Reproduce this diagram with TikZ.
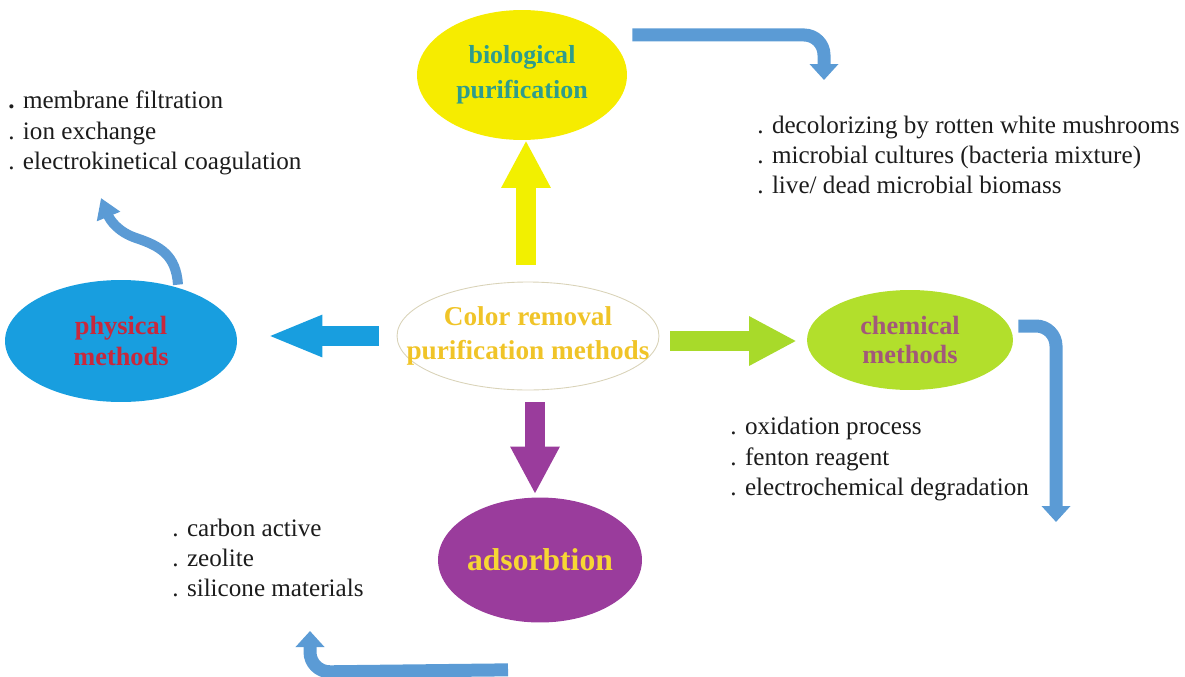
\documentclass[tikz,border=0pt]{standalone}
\usepackage{fontspec}
\setmainfont{Liberation Serif}
\usetikzlibrary{arrows.meta,calc,shapes.geometric}
\definecolor{bioyellow}{HTML}{F6EC00}
\definecolor{arrowyellow}{HTML}{F2F000}
\definecolor{bioteal}{HTML}{2E9C8C}
\definecolor{centergold}{HTML}{F0C428}
\definecolor{rimgray}{HTML}{D9D3B8}
\definecolor{physblue}{HTML}{189EDF}
\definecolor{physred}{HTML}{C8283C}
\definecolor{chemgreen}{HTML}{B2DF2C}
\definecolor{arrowgreen}{HTML}{A8DA2A}
\definecolor{chemmauve}{HTML}{A2587A}
\definecolor{adspurple}{HTML}{9A3C9C}
\definecolor{adsyellow}{HTML}{F7D634}
\definecolor{steel}{HTML}{5B9BD5}
\definecolor{listink}{HTML}{1C1C1C}

\begin{document}
\begin{tikzpicture}[x=0.02cm,y=-0.02cm,
  method/.style={ellipse,inner sep=0pt},
  methodtext/.style={align=center,inner sep=0pt},
  blockarrow/.style={line width=0.4cm,-{Triangle[width=0.92cm,length=0.95cm]}},
  bentarrow/.style={draw=steel,line width=0.26cm,rounded corners=0.4cm,-{Triangle[width=0.56cm,length=0.32cm]}},
  list/.style={anchor=west,align=left,inner sep=0pt,text=listink,font=\fontsize{14.3}{17.3}\selectfont}]
\useasboundingbox (0,0) rectangle (1185,676);

% the five ellipses
\node[method,fill=bioyellow,minimum width=4.2cm,minimum height=2.6cm,
  label={[methodtext,text=bioteal,font=\bfseries\fontsize{14.8}{19.9}\selectfont]center:biological\\purification}] (bio) at (522,75) {};
\node[method,draw=rimgray,line width=0.5pt,minimum width=5.24cm,minimum height=2.16cm,
  label={[methodtext,text=centergold,font=\bfseries\fontsize{15.5}{19.4}\selectfont]center:Color removal\\purification methods}] (center) at (528,336) {};
\node[method,fill=physblue,minimum width=4.64cm,minimum height=2.44cm,
  label={[methodtext,text=physred,font=\bfseries\fontsize{15}{18}\selectfont]center:physical\\methods}] (phys) at (121,341) {};
\node[method,fill=chemgreen,minimum width=4.12cm,minimum height=2cm,
  label={[methodtext,text=chemmauve,font=\bfseries\fontsize{15}{16.5}\selectfont]center:chemical\\methods}] (chem) at (910,340) {};
\node[method,fill=adspurple,minimum width=4.08cm,minimum height=2.5cm,
  label={[methodtext,text=adsyellow,font=\bfseries\fontsize{18}{20}\selectfont]center:adsorbtion}] (ads) at (540,560) {};

% lists
\node[list] (physlist) at (8,133) {\textbf{.} membrane filtration\\. ion exchange\\. electrokinetical coagulation};
\node[list] (biolist) at (757,155) {. decolorizing by rotten white mushrooms\\. microbial cultures (bacteria mixture)\\. live/ dead microbial biomass};
\node[list] (chemlist) at (730,459) {. oxidation process\\. fenton reagent\\. electrochemical degradation};
\node[list] (adslist) at (172,558) {. carbon active\\. zeolite\\. silicone materials};

% block arrows from the centre
\draw[blockarrow,arrowyellow] ($(center.north)+(-2,-17)$) -- ($(bio.south)+(4,0)$);
\draw[blockarrow,physblue,-{Triangle[width=0.76cm,length=1.1cm]}] ($(center.west)+(-18,0)$) -- ($(phys.east)+(30,-5)$);
\draw[blockarrow,arrowgreen] ($(center.east)+(11,5)$) -- ($(chem.west)+(-10,1)$);
\draw[blockarrow,adspurple] ($(center.south)+(7,12)$) -- ($(ads.north)+(-5,-3)$);

% bent arrows to the lists
\draw[bentarrow] ($(bio.north east)+(36,6)$) -- (824,35) -- (824,80);
\draw[bentarrow] ($(chem.east)+(5,-14)$) -- (1056,326) -- (1056,522);
\draw[bentarrow] ($(ads.south)+(-32,47)$) -- (310,672) -- (310,631);
\draw[draw=steel,line width=0.2cm,-{Triangle[width=0.48cm,length=0.4cm]}]
  ($(phys.north)+(57,5)$) .. controls (176,255) and (160,246) .. (136,238)
  .. controls (118,232) and (110,220) .. (101,198);
\end{tikzpicture}
\end{document}
